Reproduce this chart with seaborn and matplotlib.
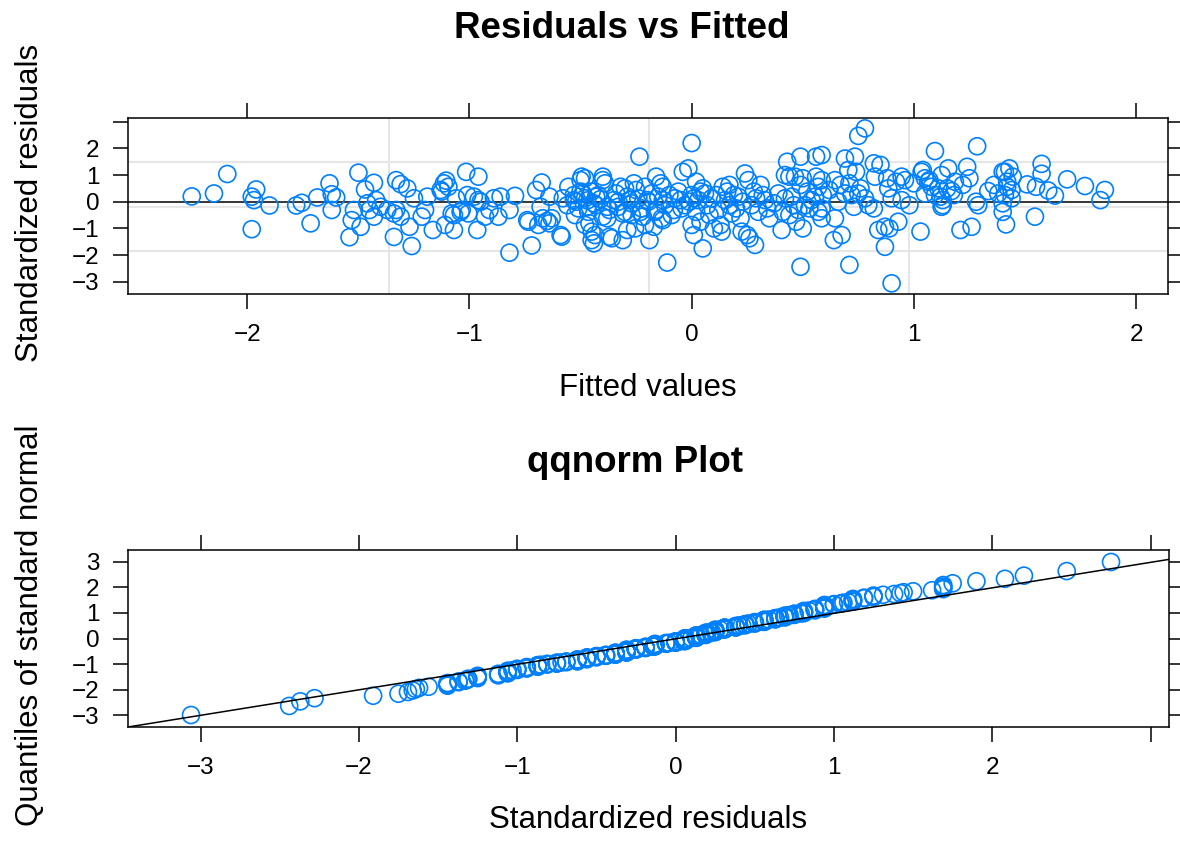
import numpy as np
import pandas as pd
import matplotlib
matplotlib.use("Agg")
import matplotlib.pyplot as plt
import seaborn as sns
from statistics import NormalDist

# ---------------- data: (fitted value, standardized residual) ----------------
pts_far_left = [(-2.25, 0.20), (-2.15, 0.31), (-2.09, 1.04), (-1.98, 0.19), (-1.96, 0.46), (-1.97, 0.06),
                (-1.98, -1.03), (-1.90, -0.14), (-1.78, -0.14), (-1.755, -0.04), (-1.715, -0.81), (-1.685, 0.16),
                (-1.63, 0.69), (-1.62, 0.28), (-1.60, 0.16), (-1.62, -0.31), (-1.50, 1.09), (-1.47, 0.46),
                (-1.43, 0.71), (-1.52, -0.31), (-1.53, -0.69), (-1.49, -0.94), (-1.54, -1.33), (-1.46, -0.06),
                (-1.45, -0.31), (-1.43, -0.56), (-1.40, -0.19), (-1.37, -0.31), (-1.42, 0.06), (-1.34, -0.44)]
pts_left = [(-1.33, 0.81), (-1.31, 0.66), (-1.28, 0.50), (-1.33, -0.31), (-1.31, -0.56), (-1.34, -1.32),
            (-1.26, -1.66), (-1.27, -0.94), (-1.25, 0.13), (-1.19, 0.19), (-1.20, -0.31), (-1.215, -0.56),
            (-1.165, -1.06), (-1.13, 0.44), (-1.115, 0.69), (-1.105, 0.79), (-1.11, -0.87), (-1.07, -1.06),
            (-1.07, -0.50), (-1.06, 0.13), (-1.015, 1.12), (-0.96, 0.94), (-1.035, -0.31), (-1.01, 0.25),
            (-0.98, 0.19), (-0.965, -1.06), (-0.96, 0.06), (-1.125, 0.38), (-1.08, -0.44), (-1.04, -0.38),
            (-1.005, -0.44), (-1.095, 0.56), (-0.95, 0.00)]
pts_mid_left = [(-0.93, -0.56), (-0.91, -0.31), (-0.89, 0.13), (-0.86, 0.19), (-0.87, -0.56), (-0.82, -0.31),
                (-0.795, 0.22), (-0.82, -1.91), (-0.74, -0.69), (-0.735, -0.75), (-0.72, -1.64), (-0.70, 0.44),
                (-0.675, 0.72), (-0.68, -0.19), (-0.69, -0.87), (-0.67, -0.62), (-0.65, -0.72), (-0.64, -0.81),
                (-0.64, 0.19), (-0.63, -0.62)]
pts_center_left = [(-0.585, -1.31), (-0.58, 0.13), (-0.555, 0.56), (-0.53, 0.06), (-0.525, -0.50), (-0.50, 0.81),
                   (-0.48, 0.88), (-0.49, 0.31), (-0.47, -0.19), (-0.46, -0.81), (-0.45, -1.44), (-0.435, -1.25),
                   (-0.44, -1.56), (-0.43, 0.19), (-0.40, 0.81), (-0.39, 0.69), (-0.40, -0.56), (-0.38, -0.19),
                   (-0.37, -1.31), (-0.35, 0.06), (-0.32, 0.56), (-0.31, -1.44), (-0.31, -0.44), (-0.29, -1.06),
                   (-0.28, 0.06), (-0.26, 0.69), (-0.25, 0.44), (-0.235, 1.69), (-0.22, -0.56), (-0.20, 0.06),
                   (-0.53, 0.25), (-0.495, 0.94), (-0.40, 0.94), (-0.50, 0.38), (-0.48, 0.13), (-0.45, 0.38),
                   (-0.42, 0.25), (-0.51, -0.25), (-0.465, -0.38), (-0.43, -0.13), (-0.48, -0.87), (-0.45, -1.12),
                   (-0.38, -0.62), (-0.36, -1.37), (-0.30, 0.50), (-0.21, 0.56), (-0.33, 0.00), (-0.30, -0.38),
                   (-0.27, -0.50), (-0.225, -0.25), (-0.255, -1.00), (-0.21, -0.87), (-0.59, -1.25)]
pts_center = [(-0.19, -1.44), (-0.16, 0.94), (-0.14, 0.69), (-0.16, -0.31), (-0.17, -0.94), (-0.11, -2.28),
              (-0.13, 0.06), (-0.13, -0.69), (-0.195, 0.00), (-0.13, 0.56), (-0.165, -0.38), (-0.135, -0.62),
              (-0.09, -0.50), (-0.075, 0.13), (-0.06, 0.38), (-0.04, 1.12), (-0.015, 1.25), (-0.045, -0.25),
              (0.00, -0.87), (-0.01, 0.00), (0.00, 2.20), (0.02, 0.75), (0.04, 0.38), (0.05, 0.50),
              (0.01, 0.13), (0.02, -0.38), (0.04, -0.75), (0.01, -1.25), (0.05, -1.75), (0.07, -0.13),
              (0.08, -0.50), (0.10, -1.00)]
pts_center_right = [(0.11, 0.25), (0.13, -0.87), (0.135, -1.12), (0.14, 0.56), (0.16, 0.38), (0.17, 0.63),
                    (0.19, 0.25), (0.17, -0.13), (0.20, -0.25), (0.22, -0.62), (0.225, -1.12), (0.24, 1.06),
                    (0.255, 0.81), (0.25, -1.25), (0.26, -1.37), (0.285, -1.62), (0.28, 0.38), (0.29, 0.13),
                    (0.31, 0.63), (0.32, 0.25), (0.34, -0.25), (0.35, -0.62), (0.405, -1.06), (0.41, -0.38),
                    (0.42, 0.13), (0.43, 1.50), (0.49, 1.69), (0.42, 1.00), (0.44, 0.94), (0.465, 0.94),
                    (0.49, 0.63), (0.50, 0.88), (0.52, 0.38), (0.44, -0.50), (0.47, -0.75), (0.50, -1.00),
                    (0.49, -2.44), (0.46, -0.13), (0.51, -0.13), (0.53, -0.25), (0.555, 0.19), (0.56, 1.69),
                    (0.57, -0.38)]
pts_mid_right = [(0.78, 2.75), (0.75, 2.47), (0.585, 1.75), (0.69, 1.62), (0.735, 1.69), (0.82, 1.44),
                 (0.85, 1.38), (0.705, 1.19), (0.74, 1.12), (0.825, 0.94), (0.88, 0.88), (0.56, 0.94),
                 (0.585, 0.81), (0.57, 0.56), (0.59, 0.25), (0.645, 0.81), (0.67, 0.63), (0.69, 0.31),
                 (0.71, 0.69), (0.72, 0.25), (0.75, 0.31), (0.78, 0.13), (0.795, -0.13), (0.82, -0.25),
                 (0.885, 0.50), (0.90, 0.13), (0.92, 0.75), (0.945, 0.94), (0.96, 0.81), (0.945, 0.06),
                 (0.98, -0.13), (0.585, -0.25), (0.585, -0.62), (0.645, -0.62), (0.73, -0.19), (0.64, -1.44),
                 (0.675, -1.25), (0.71, -2.37), (0.90, -3.06), (0.84, -1.06), (0.87, -0.94), (0.89, -1.00),
                 (0.93, -0.75), (0.87, -1.69)]
pts_right = [(1.03, -1.12), (1.035, 1.12), (1.05, 0.88), (1.065, 0.75), (1.08, 0.56), (1.11, 0.50),
             (1.12, 0.19), (1.095, 0.25), (1.285, 2.08), (1.095, 1.90), (1.24, 1.31), (1.155, 1.25),
             (1.25, 0.88), (1.185, 0.75), (1.22, 0.63), (1.15, 0.50), (1.18, 0.25), (1.13, -0.13),
             (1.28, 0.00), (1.29, -0.13), (1.335, 0.40), (1.38, 0.31), (1.40, 1.12), (1.43, 1.25),
             (1.445, 0.94), (1.42, 0.75), (1.44, 0.44), (1.41, 0.25), (1.40, -0.06), (1.40, -0.38),
             (1.415, -0.85), (1.545, -0.56), (1.51, 0.65), (1.55, 0.56), (1.575, 1.42), (1.575, 1.05),
             (1.605, 0.42), (1.635, 0.23), (1.69, 0.84), (1.77, 0.59), (1.86, 0.44), (1.84, 0.06),
             (1.21, -1.06), (1.26, -0.94), (1.00, 0.69), (1.07, 0.81), (1.125, 1.00), (1.04, 1.19),
             (1.13, 0.06), (1.125, -0.19), (1.41, 1.12)]
pts_dense_band = [(-0.56, -0.13), (-0.52, 0.00), (-0.47, 0.05), (-0.44, -0.06), (-0.41, 0.10), (-0.37, -0.31),
                  (-0.34, 0.31), (-0.33, -0.19), (-0.29, 0.19), (-0.27, -0.06), (-0.24, 0.13), (-0.23, -0.38),
                  (-0.18, 0.31), (-0.15, 0.19), (-0.12, -0.13), (-0.10, 0.25), (-0.08, -0.31), (-0.05, 0.06),
                  (-0.03, -0.13), (0.00, 0.25), (0.03, 0.06), (0.06, 0.31), (0.09, 0.13), (0.12, -0.31),
                  (0.15, 0.06), (0.18, -0.44), (0.21, 0.19), (0.23, 0.00), (0.27, -0.13), (0.30, -0.38),
                  (0.33, 0.06), (0.37, -0.06), (0.39, 0.31), (0.45, 0.19), (0.48, -0.31), (0.54, 0.06),
                  (0.62, 0.44), (0.66, 0.00), (0.76, 0.50), (1.05, 0.31), (1.17, 0.40), (1.36, 0.63),
                  (1.44, 0.13), (1.42, 0.56)]

# reference line of the qqnorm panel
QQ_SLOPE = 0.994
QQ_INTERCEPT = -0.013

# tick values / labels
top_xticks = [-2, -1, 0, 1, 2]
top_xticklabels = ["\u22122", "\u22121", "0", "1", "2"]
top_yticks = [-3, -2, -1, 0, 1, 2, 3]
top_yticklabels = ["\u22123", "\u22122", "\u22121", "0", "1", "2", ""]
bot_xticks = [-3, -2, -1, 0, 1, 2, 3]
bot_xticklabels = ["\u22123", "\u22122", "\u22121", "0", "1", "2", ""]
bot_yticks = [-3, -2, -1, 0, 1, 2, 3]
bot_yticklabels = ["\u22123", "\u22122", "\u22121", "0", "1", "2", "3"]

# ---------------- build tables ----------------
all_pts = (pts_far_left + pts_left + pts_mid_left + pts_center_left + pts_center +
           pts_center_right + pts_mid_right + pts_right + pts_dense_band)
df = pd.DataFrame(all_pts, columns=["fitted", "resid"])

n = len(df)
probs = (np.arange(1, n + 1) - 0.5) / n
nd = NormalDist()
qq = pd.DataFrame({"sample": np.sort(df["resid"].values),
                   "theoretical": [nd.inv_cdf(p) for p in probs]})

# ---------------- style ----------------
sns.set_style("white")
plt.rcParams["font.family"] = ["Liberation Sans", "DejaVu Sans"]
plt.rcParams["axes.unicode_minus"] = True
plt.rcParams["text.color"] = "black"
plt.rcParams["axes.labelcolor"] = "black"
plt.rcParams["xtick.color"] = "black"
plt.rcParams["ytick.color"] = "black"

BLUE = "#0080ff"
W, H = 1180, 844
fig = plt.figure(figsize=(W / 100, H / 100), dpi=100)

def px_axes(l, t, r, b):
    return fig.add_axes([l / W, 1 - b / H, (r - l) / W, (b - t) / H])

ax1 = px_axes(128, 118, 1168, 294)
ax2 = px_axes(128, 550, 1169, 727)

TICK_FS = 17.5
LAB_FS = 22.5
TITLE_FS = 26.5
MARK_S = 150
MARK_LW = 1.2

def style_axes(ax):
    for s in ax.spines.values():
        s.set_visible(True)
        s.set_color("black")
        s.set_linewidth(1.1)
    ax.tick_params(direction="out", length=10.5, width=1.1, colors="black",
                   labelsize=TICK_FS, labelcolor="black", top=True, right=True, bottom=True, left=True,
                   labeltop=False, labelright=False)
    ax.tick_params(axis="x", pad=11)
    ax.tick_params(axis="y", pad=10)
    ax.grid(False)
    ax.set_xlabel("")
    ax.set_ylabel("")

# ---- top panel ----
for gx in (-1.362, -0.192, 0.978):
    ax1.axvline(gx, color="#e6e6e6", lw=1.5, zorder=0)
for gy in (1.477, -0.1875, -1.837):
    ax1.axhline(gy, color="#e6e6e6", lw=1.5, zorder=0)
ax1.axhline(0, color="black", lw=1.1, zorder=1)
sns.scatterplot(data=df, x="fitted", y="resid", ax=ax1, marker="o", s=MARK_S,
                facecolor="none", edgecolor=BLUE, linewidth=MARK_LW, zorder=3, legend=False)
ax1.set_xlim(-2.537, 2.144)
ax1.set_ylim(-3.46, 3.14)
style_axes(ax1)
ax1.set_xticks(top_xticks)
ax1.set_xticklabels(top_xticklabels)
ax1.set_yticks(top_yticks)
ax1.set_yticklabels(top_yticklabels)

# ---- bottom panel ----
sns.scatterplot(data=qq, x="sample", y="theoretical", ax=ax2, marker="o", s=MARK_S,
                facecolor="none", edgecolor=BLUE, linewidth=MARK_LW, zorder=3, legend=False)
ax2.axline((0, QQ_INTERCEPT), slope=QQ_SLOPE, color="black", lw=1.1, zorder=4)
ax2.set_xlim(-3.458, 3.116)
ax2.set_ylim(-3.45, 3.45)
style_axes(ax2)
ax2.set_xticks(bot_xticks)
ax2.set_xticklabels(bot_xticklabels)
ax2.set_yticks(bot_yticks)
ax2.set_yticklabels(bot_yticklabels)

# ---- texts ----
fig.text(622 / W, 1 - 28 / H, "Residuals vs Fitted", ha="center", va="center",
         fontsize=TITLE_FS, fontweight="bold", color="black")
fig.text(635 / W, 1 - 463 / H, "qqnorm Plot", ha="center", va="center",
         fontsize=TITLE_FS, fontweight="bold", color="black")
fig.text(648 / W, 1 - 388 / H, "Fitted values", ha="center", va="center",
         fontsize=LAB_FS, color="black")
fig.text(648 / W, 1 - 820 / H, "Standardized residuals", ha="center", va="center",
         fontsize=LAB_FS, color="black")
fig.text(30 / W, 1 - 203 / H, "Standardized residuals", ha="center", va="center",
         rotation=90, fontsize=LAB_FS, color="black")
fig.text(30 / W, 1 - 625 / H, "Quantiles of standard normal", ha="center", va="center",
         rotation=90, fontsize=LAB_FS, color="black")

fig.savefig("out.png", dpi=100, facecolor="white")
